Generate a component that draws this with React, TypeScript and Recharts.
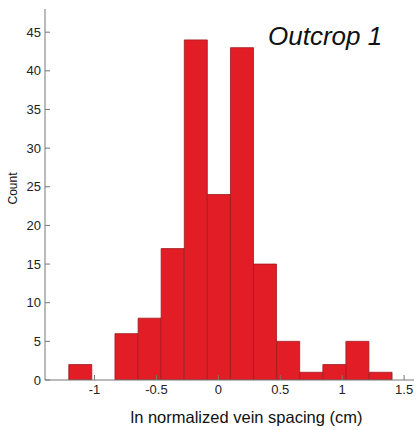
import React from 'react';
import { ComposedChart, Bar, XAxis, YAxis } from 'recharts';

// histogram bin centres (ln cm) and counts
const binCenters = [-1.115, -0.928, -0.742, -0.555, -0.369, -0.182, 0.004, 0.191, 0.377, 0.564, 0.750, 0.937, 1.123, 1.310];
const counts = [2, 0, 6, 8, 17, 44, 24, 43, 15, 5, 1, 2, 5, 1];
const xTicks = [-1, -0.5, 0, 0.5, 1, 1.5];
const yTicks = [0, 5, 10, 15, 20, 25, 30, 35, 40, 45];

const data = binCenters.map((x, i) => ({ x, count: counts[i] }));

const FONT = 'Liberation Sans, Arial, sans-serif';
const tickStyle = { fontSize: 13, fill: '#222', fontFamily: FONT };

export default function App() {
  return (
    <div style={{ position: 'absolute', left: 0, top: 0, width: 417, height: 430, background: '#fff' }}>
      <ComposedChart width={417} height={430} data={data} margin={{ top: 9, right: 3, bottom: 0, left: 0 }} barCategoryGap={0} barGap={0}>
        <XAxis
          xAxisId="b"
          dataKey="x"
          type="number"
          domain={[-1.4, 1.58]}
          ticks={xTicks}
          allowDataOverflow
          height={50}
          tick={tickStyle}
          tickSize={-5}
          tickMargin={10}
          axisLine={{ stroke: '#777' }}
          tickLine={{ stroke: '#777' }}
          label={{ value: 'ln normalized vein spacing (cm)', position: 'insideBottom', offset: 7, dx: 17, style: { fontSize: 16.5, fill: '#111', fontFamily: FONT } }}
        />
        <XAxis
          xAxisId="t"
          dataKey="x"
          type="number"
          orientation="top"
          domain={[-1.4, 1.58]}
          ticks={xTicks}
          allowDataOverflow
          height={0}
          tick={false}
          tickSize={-5}
          axisLine={{ stroke: '#777' }}
          tickLine={{ stroke: '#777' }}
        />
        <YAxis
          yAxisId="l"
          domain={[0, 48]}
          ticks={yTicks}
          allowDataOverflow
          width={45}
          tick={tickStyle}
          tickSize={-5}
          tickMargin={9}
          axisLine={{ stroke: '#777' }}
          tickLine={{ stroke: '#777' }}
        />
        <YAxis
          yAxisId="r"
          orientation="right"
          domain={[0, 48]}
          ticks={yTicks}
          allowDataOverflow
          width={0}
          tick={false}
          tickSize={-5}
          axisLine={{ stroke: '#777' }}
          tickLine={{ stroke: '#777' }}
        />
        <Bar xAxisId="b" yAxisId="l" dataKey="count" fill="#e31d25" stroke="#9e1a1f" strokeWidth={0.8} isAnimationActive={false} />
      </ComposedChart>
      <svg width={417} height={430} style={{ position: 'absolute', left: 0, top: 0, pointerEvents: 'none' }}>
        <text x={268} y={45} fontSize={26} fontStyle="italic" fontFamily={FONT} fill="#111">Outcrop 1</text>
        <text transform="translate(17,188.5) rotate(-90)" textAnchor="middle" fontSize={12} fontFamily={FONT} fill="#111">Count</text>
      </svg>
    </div>
  );
}
